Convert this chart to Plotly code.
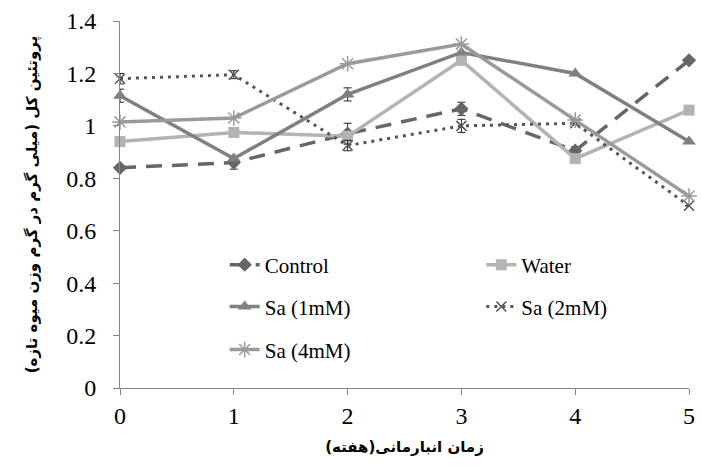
import plotly.graph_objects as go

weeks = [0, 1, 2, 3, 4, 5]
x_ticks = ["0", "1", "2", "3", "4", "5"]
y_ticks = [0, 0.2, 0.4, 0.6, 0.8, 1.0, 1.2, 1.4]
y_tick_text = ["0", "0.2", "0.4", "0.6", "0.8", "1", "1.2", "1.4"]

control = [0.84, 0.86, 0.97, 1.065, 0.905, 1.25]
control_err = [0.0, 0.025, 0.04, 0.025, 0.015, 0.0]
water = [0.94, 0.975, 0.96, 1.25, 0.875, 1.06]
sa1 = [1.115, 0.875, 1.12, 1.28, 1.2, 0.94]
sa1_err = [0.025, 0.0, 0.025, 0.0, 0.0, 0.0]
sa2 = [1.18, 1.195, 0.925, 1.0, 1.01, 0.695]
sa2_err = [0.02, 0.015, 0.02, 0.025, 0.0, 0.0]
sa4 = [1.015, 1.03, 1.237, 1.312, 1.022, 0.732]

x_title = "زمان انبارمانی(هفته)"
y_title = "پروتئین کل (میلی گرم در گرم وزن میوه تازه)"

serif = "Liberation Serif"
arab = "DejaVu Sans"

def err(vals):
    return dict(type="data", array=vals, visible=True, color="#222222",
                thickness=1, width=4)

fig = go.Figure()
fig.add_trace(go.Scatter(x=weeks, y=control, name="Control", mode="lines+markers",
                         line=dict(color="#666666", width=3.5, dash="16px,10px"),
                         marker=dict(symbol="diamond", size=11, color="#666666"),
                         error_y=err(control_err), cliponaxis=False, legend="legend"))
fig.add_trace(go.Scatter(x=weeks, y=water, name="Water", mode="lines+markers",
                         line=dict(color="#b3b3b3", width=3.5),
                         marker=dict(symbol="square", size=11, color="#b3b3b3"),
                         cliponaxis=False, legend="legend2"))
fig.add_trace(go.Scatter(x=weeks, y=sa1, name="Sa (1mM)", mode="lines+markers",
                         line=dict(color="#808080", width=3.5),
                         marker=dict(symbol="triangle-up", size=12, color="#808080"),
                         error_y=err(sa1_err), cliponaxis=False, legend="legend3"))
fig.add_trace(go.Scatter(x=weeks, y=sa2, name="Sa (2mM)", mode="lines+markers",
                         line=dict(color="#555555", width=3, dash="3px,5px"),
                         marker=dict(symbol="x-thin-open", size=10,
                                     line=dict(color="#555555", width=1.5)),
                         error_y=err(sa2_err), cliponaxis=False, legend="legend4"))
fig.add_trace(go.Scatter(x=weeks, y=sa4, name="Sa (4mM)", mode="lines+markers",
                         line=dict(color="#9a9a9a", width=3.5),
                         marker=dict(symbol="asterisk-open", size=13,
                                     line=dict(color="#9a9a9a", width=1.5)),
                         cliponaxis=False, legend="legend5"))

leg_common = dict(xanchor="left", yanchor="middle",
                  font=dict(family=serif, size=21, color="#000000"),
                  bgcolor="rgba(0,0,0,0)", itemwidth=30)

col1, col2 = 0.184, 0.635
row1, row2, row3 = 0.335, 0.221, 0.104

fig.update_layout(
    width=702, height=469,
    margin=dict(l=120, r=7, t=21, b=81),
    paper_bgcolor="white", plot_bgcolor="white",
    showlegend=True,
    legend=dict(x=col1, y=row1, **leg_common),
    legend2=dict(x=col2, y=row1, **leg_common),
    legend3=dict(x=col1, y=row2, **leg_common),
    legend4=dict(x=col2, y=row2, **leg_common),
    legend5=dict(x=col1, y=row3, **leg_common),
    xaxis=dict(range=[0, 5], tickvals=weeks, ticktext=x_ticks,
               showgrid=False, zeroline=False, showline=True, linecolor="#868686",
               linewidth=1, ticks="outside", ticklen=6, tickcolor="#868686",
               tickfont=dict(family=serif, size=24, color="#000000"),
               title=dict(text="<b>" + x_title + "</b>",
                          font=dict(family=arab, size=15, color="#000000"), standoff=13)),
    yaxis=dict(range=[0, 1.4], tickvals=y_ticks, ticktext=y_tick_text,
               showgrid=False, zeroline=False, showline=True, linecolor="#868686",
               linewidth=1, ticks="outside", ticklen=6, tickcolor="#868686",
               ticklabelstandoff=12,
               tickfont=dict(family=serif, size=24, color="#000000"),
               title=dict(text="<b>" + y_title + "</b>",
                          font=dict(family=arab, size=15, color="#000000"), standoff=24)),
)

fig.write_html("out.html")
